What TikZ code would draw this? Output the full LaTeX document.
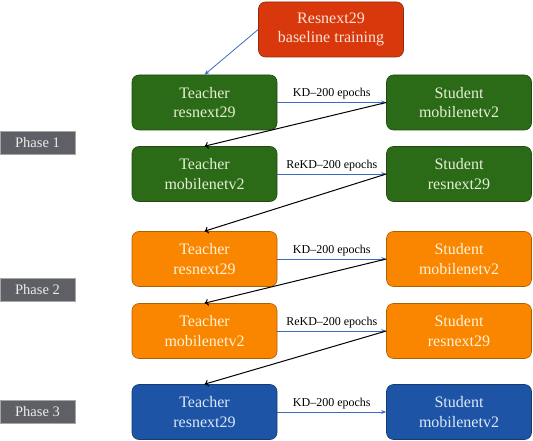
\documentclass[tikz,border=0pt]{standalone}
\usepackage{fontspec}
\setmainfont{Liberation Serif}
\usetikzlibrary{arrows.meta}

\definecolor{basered}{HTML}{D8380C}
\definecolor{basetxt}{HTML}{FBE3D6}
\definecolor{phgreen}{HTML}{2B6A16}
\definecolor{txgreen}{HTML}{E6F0D6}
\definecolor{phorange}{HTML}{FA8600}
\definecolor{txorange}{HTML}{FFF3D9}
\definecolor{phblue}{HTML}{1E54A6}
\definecolor{txblue}{HTML}{DCE8F8}
\definecolor{phasegray}{HTML}{5E6066}
\definecolor{kdblue}{HTML}{3A6BC0}

\begin{document}
\begin{tikzpicture}[x=1pt, y=-1pt,
  box/.style={rounded corners=7pt, minimum width=145pt, minimum height=55pt, align=center, line width=0.6pt, font=\fontsize{16}{19.5}\selectfont},
  phase/.style={draw=gray!70, fill=phasegray, text=white!92!black, minimum width=75pt, minimum height=23pt, inner sep=0pt, font=\fontsize{14.5}{16}\selectfont},
  kd/.style={-{Stealth[length=5pt,width=4pt]}, draw=kdblue, line width=0.8pt},
  back/.style={-{To[length=4pt,width=7pt]}, black, line width=1pt},
  lab/.style={above, inner sep=3pt, font=\fontsize{12}{14}\selectfont}]
\useasboundingbox (0,0) rectangle (533,441);

% baseline model
\node[box, draw=basered!70!black, fill=basered, text=basetxt] (base) at (331,29.5) {Resnext29\\baseline training};

% teacher / student rows
\foreach \i/\y/\fc/\tc/\tn/\sn/\lab in {
  1/102.5/phgreen/txgreen/resnext29/mobilenetv2/KD,
  2/174/phgreen/txgreen/mobilenetv2/resnext29/ReKD,
  3/259/phorange/txorange/resnext29/mobilenetv2/KD,
  4/331/phorange/txorange/mobilenetv2/resnext29/ReKD,
  5/412/phblue/txblue/resnext29/mobilenetv2/KD}
{
  \node[box, draw=\fc!70!black, fill=\fc, text=\tc] (t\i) at (204.5,\y) {Teacher\\\tn};
  \node[box, draw=\fc!70!black, fill=\fc, text=\tc] (s\i) at (459,\y) {Student\\\sn};
  \draw[kd] (t\i.east) -- node[lab]{\lab--200 epochs} (s\i.west);
}

\draw[kd] (base.west) -- (t1.north);
\foreach \i/\j in {1/2, 2/3, 3/4, 4/5} \draw[back] (s\i.west) -- (t\j.north);

% phases
\node[phase] (p1) at (37.5,142.5) {Phase 1};
\node[phase] (p2) at (37.5,290) {Phase 2};
\node[phase] (p3) at (37.5,412) {Phase 3};
\end{tikzpicture}
\end{document}
